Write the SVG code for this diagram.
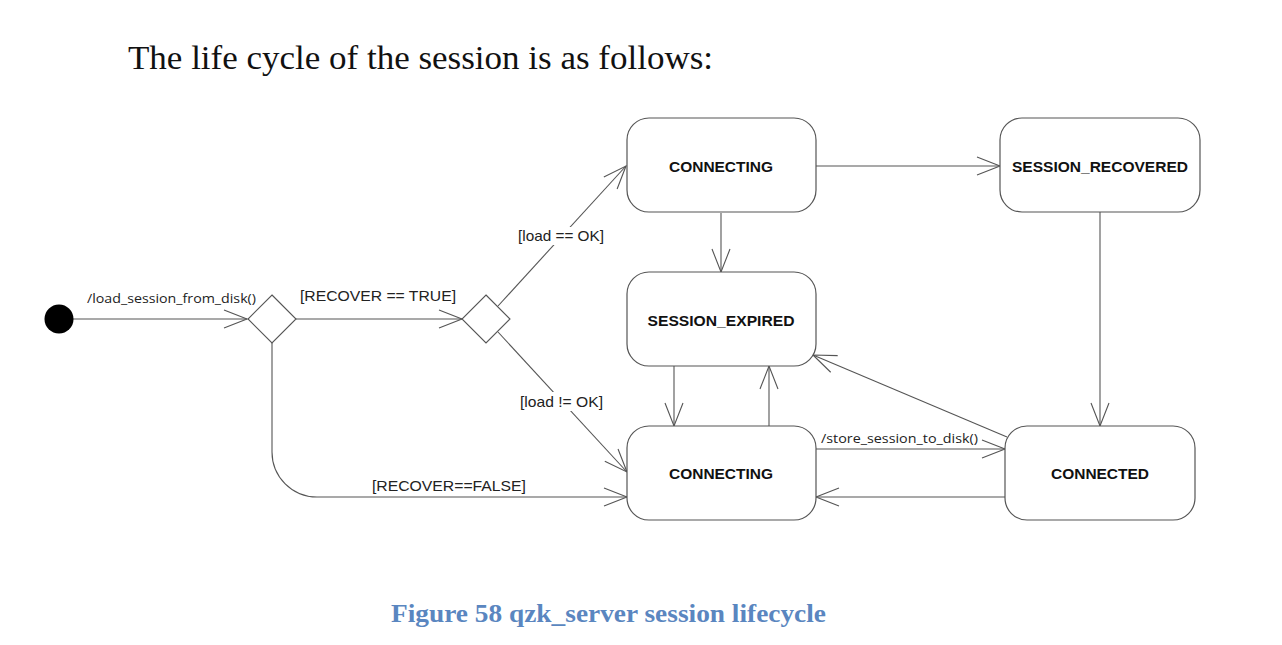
<svg xmlns="http://www.w3.org/2000/svg" width="1282" height="645" viewBox="0 0 1282 645">
<style>
.node rect{fill:#fff;stroke:#555;stroke-width:1.2}
.nl{font-family:"Liberation Sans",Arial,sans-serif;font-weight:bold;font-size:15px;fill:#111;text-anchor:middle}
.el{font-family:"Liberation Sans",Arial,sans-serif;font-size:15px;fill:#222}
.al{font-family:"Open Sans","Liberation Sans",sans-serif;font-size:13px;fill:#222}
.c{fill:none;stroke:#555;stroke-width:1.1}
.dia{fill:#fff;stroke:#555;stroke-width:1.1}
</style>
<defs>
<marker id="ar" markerUnits="userSpaceOnUse" markerWidth="26" markerHeight="20" refX="23" refY="9" orient="auto" overflow="visible">
<path d="M0,0 L23,9 L0,18" fill="none" stroke="#555" stroke-width="1.1"/>
</marker>
</defs>
<rect width="1282" height="645" fill="#fff"/>
<text x="128" y="69" font-family="'Liberation Serif',Garamond,serif" font-size="33" fill="#111" textLength="585" lengthAdjust="spacingAndGlyphs">The life cycle of the session is as follows:</text>

<g id="connectors">
<path class="c" d="M73,319 L247,319" marker-end="url(#ar)"/>
<path class="c" d="M296,319 L462,319" marker-end="url(#ar)"/>
<path class="c" d="M498,306 L626,166" marker-end="url(#ar)"/>
<path class="c" d="M498,332 L627,472" marker-end="url(#ar)"/>
<path class="c" d="M272,343 L272,452 A45,45 0 0 0 317,497 L627,497" marker-end="url(#ar)"/>
<path class="c" d="M816,166 L1000,166" marker-end="url(#ar)"/>
<path class="c" d="M721,213 L721,272" marker-end="url(#ar)"/>
<path class="c" d="M1100,212 L1100,426" marker-end="url(#ar)"/>
<path class="c" d="M674,366 L674,426" marker-end="url(#ar)"/>
<path class="c" d="M769,426 L769,366" marker-end="url(#ar)"/>
<path class="c" d="M816,449 L1005,449" marker-end="url(#ar)"/>
<path class="c" d="M1005,497 L816,497" marker-end="url(#ar)"/>
<path class="c" d="M1007,437 L813,355" marker-end="url(#ar)"/>
<rect x="515" y="227" width="92" height="18" fill="#fff"/>
<rect x="517" y="392" width="90" height="19" fill="#fff"/>
<text class="al" x="87" y="303" textLength="169" lengthAdjust="spacingAndGlyphs">/load_session_from_disk()</text>
<text class="el" x="300" y="301" textLength="156" lengthAdjust="spacingAndGlyphs">[RECOVER == TRUE]</text>
<text class="el" x="518" y="241" textLength="86" lengthAdjust="spacingAndGlyphs">[load == OK]</text>
<text class="el" x="520" y="407" textLength="83" lengthAdjust="spacingAndGlyphs">[load != OK]</text>
<text class="el" x="372" y="491" textLength="154" lengthAdjust="spacingAndGlyphs">[RECOVER==FALSE]</text>
<text class="al" x="821" y="443" textLength="157" lengthAdjust="spacingAndGlyphs">/store_session_to_disk()</text>
</g>

<g id="start"><circle cx="59" cy="319" r="14.5" fill="#000"/></g>
<g id="decision1"><path class="dia" d="M272,295 L296,319 L272,343 L248,319 Z"/></g>
<g id="decision2"><path class="dia" d="M486,295 L510,319 L486,343 L462,319 Z"/></g>

<g id="connecting1" class="node"><rect x="627" y="118" width="189" height="94" rx="22"/><text class="nl" x="721" y="171.5" textLength="104" lengthAdjust="spacingAndGlyphs">CONNECTING</text></g>
<g id="session_recovered" class="node"><rect x="1000" y="118" width="200" height="94" rx="22"/><text class="nl" x="1100" y="171.5" textLength="176" lengthAdjust="spacingAndGlyphs">SESSION_RECOVERED</text></g>
<g id="session_expired" class="node"><rect x="627" y="272" width="189" height="94" rx="22"/><text class="nl" x="721" y="325.5" textLength="147" lengthAdjust="spacingAndGlyphs">SESSION_EXPIRED</text></g>
<g id="connecting2" class="node"><rect x="627" y="426" width="189" height="94" rx="22"/><text class="nl" x="721" y="479" textLength="104" lengthAdjust="spacingAndGlyphs">CONNECTING</text></g>
<g id="connected" class="node"><rect x="1005" y="426" width="190" height="94" rx="22"/><text class="nl" x="1100" y="479" textLength="98" lengthAdjust="spacingAndGlyphs">CONNECTED</text></g>

<text x="391" y="622" font-family="'Liberation Serif',Garamond,serif" font-weight="bold" font-size="25" fill="#5A86C0" textLength="435" lengthAdjust="spacingAndGlyphs">Figure 58 qzk_server session lifecycle</text>
</svg>
